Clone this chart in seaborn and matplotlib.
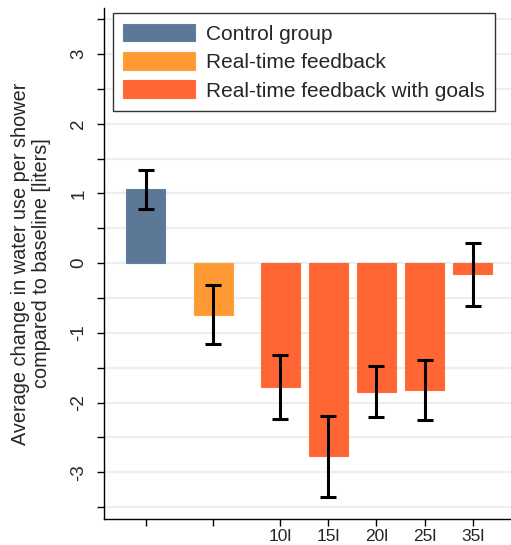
import matplotlib
matplotlib.use('Agg')
import matplotlib.pyplot as plt
import seaborn as sns
import numpy as np
import pandas as pd

# ---- data ----
tick_labels = ['', '', '10l', '15l', '20l', '25l', '35l']
positions = [0.0, 1.4, 2.8, 3.8, 4.8, 5.8, 6.8]
groups = ['Control group', 'Real-time feedback',
          'Real-time feedback with goals', 'Real-time feedback with goals',
          'Real-time feedback with goals', 'Real-time feedback with goals',
          'Real-time feedback with goals']
means = [1.06, -0.74, -1.78, -2.77, -1.85, -1.82, -0.16]
ci_low = [0.77, -1.16, -2.23, -3.36, -2.21, -2.25, -0.62]
ci_high = [1.33, -0.31, -1.32, -2.19, -1.48, -1.39, 0.29]
legend_order = ['Control group', 'Real-time feedback', 'Real-time feedback with goals']
colors = ['#5B7896', '#FF9933', '#FF6633']
y_ticks = [-3, -2, -1, 0, 1, 2, 3]
y_ticklabels = ['-3', '-2', '-1', '0', '1', '2', '3']

sns.set_style('white')
plt.rcParams['font.family'] = ['Liberation Sans', 'DejaVu Sans']
plt.rcParams['axes.unicode_minus'] = False

df = pd.DataFrame({'pos': positions, 'mean': means, 'group': groups})

fig = plt.figure(figsize=(5.11, 5.45), dpi=100)
ax = fig.add_axes([104/511, 26/545, 407/511, 511/545])

# grid lines
for yv in np.arange(-3.5, 3.51, 0.5):
    ax.axhline(yv, color='#E9F0F2', lw=1.6, zorder=0)

sns.barplot(data=df, x='pos', y='mean', hue='group', hue_order=legend_order,
            palette=colors, saturation=1, native_scale=True, dodge=False,
            width=0.81, errorbar=None, ax=ax, zorder=2, linewidth=0.8)

for p in ax.patches:
    fc = p.get_facecolor()
    p.set_edgecolor((min(fc[0]*1.06, 1), min(fc[1]*1.06, 1), min(fc[2]*1.06, 1), 1))

m = np.array(means)
yerr = [m - np.array(ci_low), np.array(ci_high) - m]
ax.errorbar(positions, means, yerr=yerr, fmt='none', ecolor='black',
            elinewidth=2.2, capsize=5.5, capthick=2.2, zorder=3)

ax.set_xlim(-0.87, 7.6)
ax.set_ylim(-3.67, 3.66)
ax.set_xticks(positions)
ax.set_xticklabels(tick_labels, fontsize=12.5)
ax.set_yticks(np.arange(-3.5, 3.51, 0.5), minor=True)
ax.set_yticks(y_ticks)
ax.set_yticklabels(y_ticklabels, fontsize=13.5, rotation=90, va='center')
ax.tick_params(axis='both', which='both', direction='out', length=5, width=1,
               color='black', left=True, bottom=True)
ax.tick_params(axis='x', pad=2)
ax.tick_params(axis='y', pad=7)
ax.set_xlabel('')
ax.set_ylabel('Average change in water use per shower\ncompared to baseline [liters]',
              fontsize=14.3, labelpad=14, linespacing=1.1)

for s in ['top', 'right']:
    ax.spines[s].set_visible(False)
for s in ['left', 'bottom']:
    ax.spines[s].set_color('black')
    ax.spines[s].set_linewidth(1)

handles, lbls = ax.get_legend_handles_labels()
leg = ax.legend(handles, lbls, loc='upper left', bbox_to_anchor=(0.022, 0.99),
                fontsize=15, frameon=True, fancybox=False, framealpha=1,
                edgecolor='#333333', handlelength=3.45, handleheight=0.95,
                labelspacing=0.4, borderpad=0.5, handletextpad=0.5,
                borderaxespad=0)
leg.get_frame().set_linewidth(1)

fig.savefig('out.png', dpi=100)
